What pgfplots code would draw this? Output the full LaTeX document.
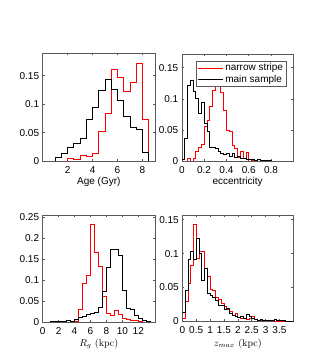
\documentclass[border=0pt]{standalone}
\usepackage{pgfplots}
\pgfplotsset{compat=1.18}
\usepackage{fontspec}
\setsansfont{Liberation Sans}

\pgfplotsset{
  hist/.style={
    scale only axis, ymin=0,
    axis line style={black!65, line width=0.6pt},
    tick style={black!65, line width=0.5pt},
    tick align=inside, major tick length=2pt,
    tick label style={font=\sffamily\fontsize{10}{12}\selectfont},
    xticklabel style={yshift=-2pt},
    every axis plot/.append style={const plot, line width=0.7pt, mark=none},
  },
  sxlabel/.style={xlabel style={at={(axis description cs:0.5,0)}, anchor=center, yshift=#1, font=\sffamily\fontsize{10}{12}\selectfont}},
  rxlabel/.style={xlabel style={at={(axis description cs:0.5,0)}, anchor=center, yshift=#1, font=\fontsize{10}{12}\selectfont}},
}

\begin{document}
\begin{tikzpicture}
\path[use as bounding box] (0pt,0pt) rectangle (330pt,358pt);

% Age
\begin{axis}[hist, at={(42.6pt,197pt)}, anchor=south west, width=112.4pt, height=108pt,
  xmin=0, xmax=9, ymax=0.19,
  xtick={2,4,6,8}, xticklabels={2,4,6,8},
  ytick={0,0.05,0.1,0.15}, yticklabels={0,0.05,0.1,0.15},
  xlabel={Age (Gyr)}, sxlabel=-20.5pt]
\addplot[red] coordinates {(0,0) (2.0,0.005) (2.5,0.003) (3.0,0.010) (3.5,0.008) (4.0,0.014) (4.5,0.052) (5.0,0.083) (5.5,0.162) (6.0,0.148) (6.5,0.122) (7.0,0.139) (7.5,0.172) (8.0,0.074) (8.5,0) (9,0)};
\addplot[black] coordinates {(0,0) (1.0,0.007) (1.5,0.013) (2.0,0.0235) (2.5,0.031) (3.0,0.039) (3.5,0.074) (4.0,0.095) (4.5,0.124) (5.0,0.144) (5.5,0.126) (6.0,0.107) (6.5,0.078) (7.0,0.059) (7.5,0.055) (8.0,0.016) (8.5,0) (9,0)};
\end{axis}

% eccentricity
\begin{axis}[hist, at={(181.8pt,197pt)}, anchor=south west, width=111.5pt, height=107pt,
  xmin=0, xmax=1, ymax=0.172,
  xtick={0,0.2,0.4,0.6,0.8}, xticklabels={0,0.2,0.4,0.6,0.8},
  ytick={0,0.05,0.1,0.15}, yticklabels={0,0.05,0.1,0.15},
  xlabel={eccentricity}, sxlabel=-20.5pt,
  legend style={at={(1,1)}, anchor=north east, xshift=-6.5pt, yshift=-7pt,
    draw=black!65, line width=0.5pt, inner xsep=1.5pt, inner ysep=0.5pt, row sep=-1.5pt,
    font=\sffamily\fontsize{10}{12}\selectfont},
  legend cell align=left,
  legend image code/.code={\draw[#1, line width=0.7pt] (0pt,0pt) -- (25pt,0pt);}]
\addplot[red] coordinates {(0,0) (0.05,0.004) (0.075,0) (0.1,0.004) (0.125,0.016) (0.15,0.022) (0.175,0.026) (0.2,0.055) (0.225,0.066) (0.25,0.088) (0.275,0.113) (0.3,0.122) (0.325,0.13) (0.35,0.11) (0.375,0.082) (0.4,0.05) (0.425,0.048) (0.45,0.025) (0.475,0.02) (0.5,0.006) (0.525,0.016) (0.55,0.004) (0.575,0.014) (0.6,0.002) (0.625,0.001) (0.65,0) (1,0)};
\addplot[black] coordinates {(0,0.003) (0.025,0.036) (0.05,0.122) (0.075,0.13) (0.1,0.112) (0.125,0.1) (0.15,0.077) (0.175,0.095) (0.2,0.06) (0.225,0.048) (0.25,0.022) (0.275,0.022) (0.3,0.02) (0.325,0.015) (0.35,0.012) (0.375,0.01) (0.4,0.012) (0.425,0.008) (0.45,0.012) (0.475,0.006) (0.5,0.008) (0.525,0.004) (0.55,0.004) (0.575,0.002) (0.6,0.002) (0.625,0.003) (0.65,0.001) (0.675,0.002) (0.7,0.001) (0.725,0.001) (0.75,0.001) (0.775,0.0005) (0.8,0) (1,0)};
\legend{narrow stripe, main sample}
\end{axis}

% R_g
\begin{axis}[hist, at={(42.6pt,36pt)}, anchor=south west, width=112.4pt, height=107pt,
  xmin=0, xmax=14.1, ymax=0.256,
  xtick={0,2,4,6,8,10,12}, xticklabels={0,2,4,6,8,10,12},
  ytick={0,0.05,0.1,0.15,0.2,0.25}, yticklabels={0,0.05,0.1,0.15,0.2,0.25},
  xlabel={$R_g$ (kpc)}, rxlabel=-22pt]
\addplot[red] coordinates {(0,0) (3.5,0.001) (4.0,0.002) (4.5,0.031) (5.0,0.092) (5.5,0.111) (6.0,0.233) (6.5,0.166) (7.0,0.132) (7.5,0.061) (8.0,0.021) (8.5,0.017) (9.0,0.029) (9.5,0.018) (10.0,0.008) (10.5,0.006) (11.0,0.005) (11.5,0.003) (12.0,0.001) (12.5,0) (14.1,0)};
\addplot[black] coordinates {(0,0) (1.0,0.001) (2.5,0.002) (3.0,0.003) (3.5,0.002) (4.0,0.006) (4.5,0.012) (5.0,0.013) (5.5,0.018) (6.0,0.02) (6.5,0.022) (7.0,0.035) (7.5,0.074) (8.0,0.13) (8.5,0.175) (9.0,0.173) (9.5,0.16) (10.0,0.075) (10.5,0.033) (11.0,0.03) (11.5,0.016) (12.0,0.008) (12.5,0.004) (13.0,0.002) (13.5,0) (14.1,0)};
\end{axis}

% z_max
\begin{axis}[hist, at={(182.3pt,36.7pt)}, anchor=south west, width=111pt, height=106.3pt,
  xmin=0, xmax=4, ymax=0.157,
  xtick={0,0.5,1,1.5,2,2.5,3,3.5}, xticklabels={0,0.5,1,1.5,2,2.5,3,3.5},
  ytick={0,0.05,0.1,0.15}, yticklabels={0,0.05,0.1,0.15},
  xlabel={$z_{max}$ (kpc)}, rxlabel=-22.5pt]
\addplot[red] coordinates {(0,0.004) (0.1,0.03) (0.2,0.056) (0.3,0.082) (0.4,0.143) (0.5,0.093) (0.6,0.104) (0.7,0.104) (0.8,0.078) (0.9,0.067) (1.0,0.047) (1.1,0.045) (1.2,0.036) (1.3,0.032) (1.4,0.026) (1.5,0.022) (1.6,0.018) (1.7,0.014) (1.8,0.009) (1.9,0.012) (2.0,0.006) (2.1,0.005) (2.2,0.004) (2.3,0.003) (2.4,0.004) (2.5,0.007) (2.6,0.003) (2.7,0.002) (2.8,0.002) (2.9,0.001) (3.0,0.002) (3.1,0.001) (3.2,0.001) (3.3,0.0005) (3.5,0.0005) (3.6,0) (4,0)};
\addplot[black] coordinates {(0,0.013) (0.1,0.046) (0.2,0.091) (0.3,0.104) (0.4,0.091) (0.5,0.123) (0.6,0.1) (0.7,0.061) (0.8,0.078) (0.9,0.041) (1.0,0.039) (1.1,0.036) (1.2,0.031) (1.3,0.024) (1.4,0.024) (1.5,0.017) (1.6,0.019) (1.7,0.012) (1.8,0.009) (1.9,0.007) (2.0,0.006) (2.1,0.007) (2.2,0.004) (2.3,0.01) (2.4,0.008) (2.5,0.004) (2.6,0.003) (2.7,0.002) (2.8,0.003) (2.9,0.002) (3.0,0.001) (3.1,0.002) (3.2,0.001) (3.3,0.003) (3.4,0.001) (3.5,0.001) (3.6,0.001) (3.7,0.0005) (3.8,0.0005) (4,0)};
\end{axis}
\end{tikzpicture}
\end{document}
